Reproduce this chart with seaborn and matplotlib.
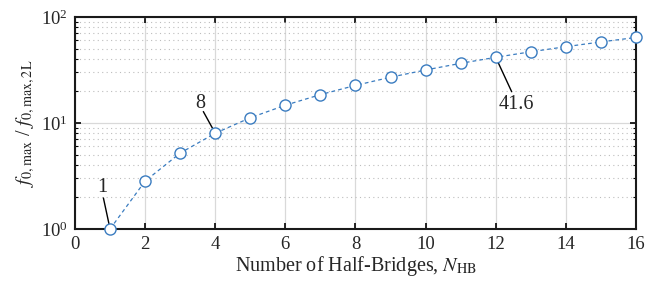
import numpy as np
import pandas as pd
import matplotlib
matplotlib.use("Agg")
import matplotlib.pyplot as plt
import seaborn as sns
from matplotlib.ticker import LogLocator, NullFormatter

# data
n_hb = [1, 2, 3, 4, 5, 6, 7, 8, 9, 10, 11, 12, 13, 14, 15, 16]
f_ratio = [1.0, 2.83, 5.2, 8.0, 11.2, 14.7, 18.5, 22.6, 27.0, 31.6,
           36.5, 41.6, 46.9, 52.4, 58.1, 64.0]
x_ticks = [0, 2, 4, 6, 8, 10, 12, 14, 16]

# callouts: label, point, leader start, text position
callouts = [
    ("1", (1, 1.0), (0.81, 1.96), (0.78, 2.44)),
    ("8", (4, 8.0), (3.66, 12.8), (3.585, 15.4)),
    ("41.6", (12, 41.6), (12.455, 19.7), (12.6, 14.8)),
]

df = pd.DataFrame({"N": n_hb, "f": f_ratio})

sns.set_style("ticks")
plt.rcParams["font.family"] = ["Liberation Serif", "DejaVu Serif"]
plt.rcParams["mathtext.fontset"] = "stix"
plt.rcParams["font.size"] = 13

fig = plt.figure(figsize=(6.45, 2.82), dpi=100)
ax = fig.add_axes([0.1163, 0.188, 0.8697, 0.752])

blue = "#3a7cc0"
sns.lineplot(data=df, x="N", y="f", ax=ax, color=blue, lw=0.9,
             linestyle=(0, (3, 2.5)), marker="o", markersize=8,
             markerfacecolor="white", markeredgecolor=blue,
             markeredgewidth=1.0, zorder=5, clip_on=False)

ax.set_yscale("log")
ax.set_xlim(0, 16)
ax.set_ylim(1, 100)
ax.set_xticks(x_ticks)
ax.yaxis.set_minor_locator(LogLocator(base=10, subs=np.arange(2, 10)))
ax.yaxis.set_minor_formatter(NullFormatter())

ax.grid(True, which="major", color="#d9d9d9", lw=0.9, ls="-")
ax.grid(True, which="minor", axis="y", color="#bdbdbd", lw=0.8, ls=(0, (1, 3)))
ax.set_axisbelow(True)

ax.tick_params(which="both", direction="in", top=True, right=True,
               labelsize=13.5, color="black")
ax.tick_params(which="major", length=4, width=1.2, pad=5)
ax.tick_params(which="minor", length=2, width=0.8)
for s in ax.spines.values():
    s.set_linewidth(1.5)
    s.set_color("#1a1a1a")

ax.set_xlabel("Number of Half-Bridges, $N_{\\mathrm{HB}}$", fontsize=14.5, labelpad=1)
ax.set_ylabel("$f_{0,\\mathrm{max}}$ / $f_{0,\\mathrm{max,2L}}$", fontsize=14.5, labelpad=3)

for label, pt, start, txt in callouts:
    ax.annotate("", xy=pt, xytext=start,
                arrowprops=dict(arrowstyle="-", color="black", lw=1.0,
                                shrinkA=0, shrinkB=4))
    ax.text(txt[0], txt[1], label, ha="center", va="center", fontsize=14.5)

fig.savefig("out.png", dpi=100)
